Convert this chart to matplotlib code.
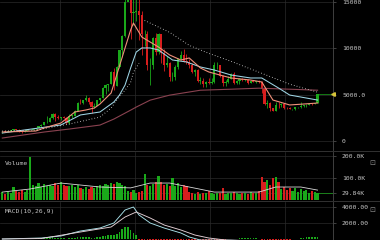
import matplotlib
matplotlib.use('Agg')
import matplotlib.pyplot as plt
import matplotlib.transforms as mtransforms
from matplotlib.lines import Line2D
import numpy as np
import pandas as pd

# ── weekly candles, end of Jan 2017 .. start of Apr 2019 ───────────────────
first_open = 920
closes = [1015, 995, 1050, 1150, 1270, 1230, 1020, 960, 1130, 1180,
          1180, 1250, 1420, 1600, 1720, 2050, 2050, 2520, 2900, 2600,
          2500, 2510, 2500, 1920, 2750, 2750, 3220, 4080, 4070, 4380,
          4600, 4200, 3700, 3780, 4400, 4600, 5700, 6000, 6150, 7400,
          5950, 8000, 9800, 11300, 15000, 19000, 13800, 13900, 14000, 13600,
          11500, 11600, 8200, 8200, 11100, 9600, 11500, 9500, 8200, 8400,
          6900, 6900, 8000, 8900, 9300, 8600, 8500, 8200, 7400, 7700,
          6500, 6500, 6100, 6400, 6300, 6400, 8200, 8200, 7000, 6300,
          6400, 6700, 7200, 6250, 6500, 6700, 6600, 6600, 6300, 6450,
          6400, 6400, 6350, 5600, 4000, 4100, 3550, 3250, 3900, 3850,
          4000, 3600, 3550, 3450, 3450, 3650, 3650, 3800, 3850, 3900,
          4000, 3950, 4100, 5050]
highs = [1050, 1060, 1060, 1200, 1290, 1330, 1260, 1060, 1140, 1210,
         1220, 1260, 1440, 1640, 1810, 2080, 2700, 2560, 2980, 3000,
         2760, 2600, 2660, 2540, 2900, 2830, 3300, 4180, 4480, 4450,
         4980, 4700, 4330, 4100, 4450, 4640, 5850, 6100, 6200, 7600,
         7900, 8100, 9800, 11400, 17200, 19800, 19500, 16500, 17200, 15300,
         14000, 12000, 11900, 9000, 11200, 11700, 11700, 11600, 9900, 9200,
         8500, 7500, 8200, 9000, 9700, 9980, 9400, 8800, 8400, 7800,
         7800, 6900, 6800, 6500, 6800, 6800, 8500, 8500, 8200, 7100,
         6600, 7000, 7300, 7400, 6600, 6800, 6800, 6700, 6700, 6600,
         6500, 6500, 6550, 6450, 5600, 4400, 4200, 3600, 4200, 4200,
         4100, 4100, 3700, 3650, 3500, 3700, 3700, 4200, 3900, 3950,
         4000, 4050, 4150, 5100]
lows = [915, 940, 990, 1050, 1130, 1120, 940, 890, 930, 1080,
        1140, 1170, 1230, 1410, 1560, 1700, 1900, 2000, 2400, 2150,
        2400, 2300, 2470, 1840, 1850, 2450, 2650, 3220, 3970, 3960,
        4350, 4000, 2980, 3600, 3860, 4200, 4600, 5120, 5400, 6100,
        5500, 5900, 7900, 9100, 11200, 15800, 11000, 12500, 12900, 10900,
        9300, 10300, 7700, 6000, 7800, 9300, 9400, 8400, 7600, 8000,
        6500, 6500, 6600, 7800, 8700, 8500, 8300, 7900, 7300, 7000,
        6400, 6100, 5800, 5800, 6100, 6100, 6300, 7800, 6900, 5900,
        5900, 6300, 6700, 6200, 6200, 6100, 6450, 6450, 6150, 6300,
        6400, 6300, 6300, 5200, 3900, 3600, 3250, 3200, 3230, 3600,
        3700, 3500, 3500, 3400, 3350, 3350, 3550, 3600, 3700, 3700,
        3850, 3900, 3950, 4100]
volume_k = [36, 28, 36, 30, 59, 40, 36, 45, 38, 45,
            195, 68, 62, 77, 59, 72, 64, 70, 62, 75,
            66, 80, 70, 64, 62, 68, 57, 70, 55, 52,
            59, 48, 57, 54, 62, 70, 65, 74, 68, 78,
            72, 80, 76, 70, 65, 40, 35, 44, 32, 38,
            42, 118, 70, 65, 74, 80, 109, 82, 66, 72,
            62, 100, 65, 77, 58, 66, 62, 36, 32, 28,
            36, 25, 34, 30, 40, 32, 28, 34, 30, 55,
            28, 34, 32, 36, 30, 28, 34, 32, 28, 38,
            30, 34, 40, 105, 82, 91, 66, 100, 105, 80,
            50, 59, 45, 54, 40, 56, 36, 50, 42, 47,
            34, 40, 37, 29.84]
macd_hist = [0, 20, 30, 40, 50, 40, 20, 10, 20, 30,
             40, 60, 80, 100, 120, 150, 160, 180, 200, 180,
             150, 120, 100, 60, 100, 130, 150, 200, 260, 280,
             300, 260, 180, 160, 200, 250, 350, 420, 500, 560,
             500, 650, 900, 1200, 1450, 1500, 1100, 800, 500, -200,
             -500, -700, -800, -800, -700, -650, -600, -600, -550, -500,
             -500, -450, -400, -400, -350, -350, -300, -300, -250, -250,
             -200, -200, -180, -160, -150, -140, -120, -110, -100, -90,
             -80, -60, -40, -20, 40, 80, 120, 150, 180, 150,
             120, 100, 60, -100, -300, -400, -500, -450, -350, -250,
             -200, -150, -120, -80, -40, -20, 60, 120, 180, 220,
             250, 260, 250, 300]

# overlays (candle index -> value)
fast_idx = [0, 12, 15, 21, 26, 30, 33, 35, 39, 41, 44, 46, 47, 50, 53,
            56, 60, 64, 67, 71, 74, 78, 82, 89, 93, 97, 103, 108, 113]
fast_val = [970, 1080, 1400, 1940, 3130, 3350, 3560, 3990, 5180, 7120,
            10040, 11980, 12730, 11220, 10680, 10140, 9280, 8740, 8960,
            7880, 7450, 7120, 6800, 6580, 6370, 4420, 3890, 3990, 4100]
mid_idx = [0, 21, 28, 35, 40, 42, 44, 46, 48, 50, 53, 56, 61, 66, 71,
           76, 82, 89, 93, 99, 103, 113]
mid_val = [860, 1730, 2810, 3130, 4210, 4960, 6040, 7880, 9600, 10040,
           10040, 9820, 8740, 8530, 7990, 7660, 7120, 6800, 6800, 5720,
           4960, 4420]
slow_idx = [0, 15, 24, 35, 40, 46, 48, 53, 60, 71, 82, 92, 103, 113]
slow_val = [320, 970, 1290, 1720, 2370, 3330, 3660, 4410, 4950, 5480,
            5590, 5700, 5590, 5480]
sar_lo_idx = [0, 12, 24, 35, 39, 42, 44, 46, 47, 49]
sar_lo_val = [1075, 1180, 1830, 2580, 3550, 4840, 5480, 6340, 7420, 8390]
sar_hi_idx = [51, 60, 67, 74, 82, 92, 103, 113]
sar_hi_val = [13010, 11720, 10320, 9460, 8600, 7420, 6130, 5270]
vol_ma_idx = [0, 10, 21, 35, 46, 53, 60, 67, 76, 92, 98, 107, 113]
vol_ma_val = [36, 50, 77, 59, 55, 77, 77, 59, 36, 36, 59, 59, 45]
macd_idx = [0, 14, 21, 28, 35, 40, 44, 47, 49, 53, 58, 64, 67, 71, 82, 92, 103, 113]
macd_val = [0, 125, 375, 1000, 1375, 2000, 3625, 4000, 3000, 2000, 1375,
            750, 250, -125, -150, -250, -600, -300]
signal_idx = [0, 14, 28, 39, 44, 48, 53, 58, 64, 69, 74, 80, 92, 103, 113]
signal_val = [0, 60, 875, 1500, 2750, 3375, 2625, 1750, 1125, 500, 125,
              -125, -250, -500, -400]

GREEN = '#1aa81a'
RED = '#d81e1e'
GRID = '#2b2b2b'
TXT = '#c4c4c4'
MONO = 'DejaVu Sans Mono'

df = pd.DataFrame({'close': closes, 'high': highs, 'low': lows,
                   'vol': volume_k, 'hist': macd_hist})
df['open'] = [first_open] + closes[:-1]
x = np.arange(len(df))
up = df['close'] >= df['open']
cols = np.where(up, GREEN, RED)

fig = plt.figure(figsize=(3.8, 2.4), dpi=100, facecolor='black')
W = 333 / 380
ax = fig.add_axes([0, 90 / 240, W, 150 / 240])
axv = fig.add_axes([0, 40 / 240, W, 48 / 240])
axm = fig.add_axes([0, 0, W, 38 / 240])

xlim = (-2.3 / 2.79, (333 - 2.3) / 2.79)
grid_x = [20.7, 47.6, 74.4, 101.3]

for a in (ax, axv, axm):
    a.set_facecolor('black')
    a.set_xlim(*xlim)
    for s in ('left', 'top', 'bottom'):
        a.spines[s].set_visible(False)
    a.spines['right'].set_color('#4a4a4a')
    a.spines['right'].set_linewidth(0.6)
    a.yaxis.tick_right()
    a.tick_params(axis='y', colors='#5a5a5a', labelcolor=TXT, length=2.5,
                  width=0.5, pad=4, labelsize=4.6)
    a.tick_params(axis='x', length=0, labelbottom=False)
    a.set_xticks(grid_x)
    a.grid(True, color=GRID, linewidth=0.5)
    a.set_axisbelow(True)

# ── price panel ─────────────────────────────────────────────────────────
ax.set_ylim(-971, 15216)
ax.vlines(x, df['low'], df['high'], colors=cols, linewidth=0.6, zorder=2)
ax.bar(x, (df['close'] - df['open']).abs().clip(lower=40),
       bottom=np.minimum(df['open'], df['close']), width=0.78,
       color=cols, linewidth=0, zorder=3)
ax.plot(slow_idx, slow_val, color='#8a4250', linewidth=0.8, zorder=4)
ax.plot(mid_idx, mid_val, color='#9fd6e6', linewidth=0.75, zorder=4)
ax.plot(fast_idx, fast_val, color='#f0907a', linewidth=0.8, zorder=4)
for ii, vv in ((sar_lo_idx, sar_lo_val), (sar_hi_idx, sar_hi_val)):
    ax.plot(ii, vv, color='#e6e6e6', linewidth=0.7, linestyle=(0, (0.7, 2.3)),
            zorder=5)
ax.hlines(df['close'].iloc[-1], x[-1], xlim[1], color=GREEN, linewidth=0.5)
ax.set_yticks([0, 5000, 10000, 15000])
ax.set_yticklabels(['0', '5000.0', '10000', '15000'], family=MONO)
tr = mtransforms.blended_transform_factory(ax.transAxes, ax.transData)
ax.plot([1.0], [df['close'].iloc[-1]], transform=tr, marker='<', ms=2.6,
        color='#d6c23a', clip_on=False, zorder=6)

# ── volume panel ────────────────────────────────────────────────────────
axv.set_ylim(0, 218)
axv.bar(x, df['vol'], width=0.78, color=cols, linewidth=0)
axv.plot(vol_ma_idx, vol_ma_val, color='#d8d8d8', linewidth=0.6)
axv.hlines(df['vol'].iloc[-1], x[-1], xlim[1], color=GREEN, linewidth=0.5)
axv.set_yticks([volume_k[-1], 100, 200])
axv.set_yticklabels(['29.84K', '100.0K', '200.0K'], family=MONO)
axv.text(0.015, 0.77, 'Volume', transform=axv.transAxes, color=TXT,
         fontsize=4.6, family=MONO, va='center')

# ── MACD panel ──────────────────────────────────────────────────────────
axm.set_ylim(-125, 4625)
axm.bar(x, df['hist'], width=0.6,
        color=np.where(df['hist'] >= 0, GREEN, RED), linewidth=0)
axm.plot(macd_idx, macd_val, color='#a9e2ea', linewidth=0.65)
axm.plot(signal_idx, signal_val, color='#e4d0d6', linewidth=0.65)
axm.set_yticks([2000, 4000])
axm.set_yticklabels(['2000.00', '4000.00'], family=MONO)
axm.text(0.015, 0.76, 'MACD(10,26,9)', transform=axm.transAxes, color=TXT,
         fontsize=4.6, family=MONO, va='center')

# panel separators and settings boxes
for yp in (151, 201):
    fig.add_artist(Line2D([0, 1], [1 - yp / 240] * 2, color='#3a3a3a',
                          linewidth=0.6))
for yp in (163, 210):
    fig.text(372 / 380, 1 - yp / 240, '⊡', color='#8a8a8a', fontsize=5,
             ha='center', va='center')

fig.savefig('out.png', dpi=100, facecolor='black')
